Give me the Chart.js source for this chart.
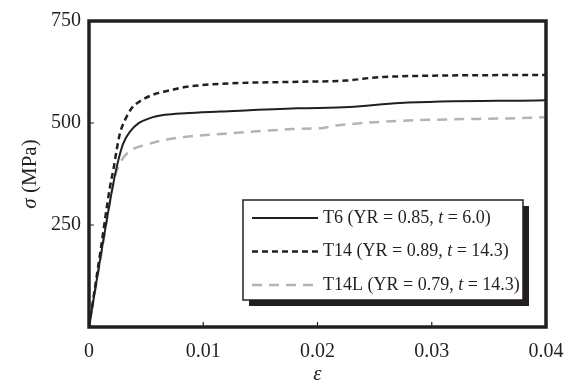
<!DOCTYPE html>
<html>
<head>
<meta charset="utf-8">
<script src="https://cdn.jsdelivr.net/npm/chart.js@4.4.1/dist/chart.umd.min.js"></script>
<style>
  html, body { margin: 0; padding: 0; background: #fff; }
  #wrap { width: 573px; height: 385px; position: relative; }
</style>
</head>
<body>
<div id="wrap"><canvas id="c"></canvas></div>
<script>
// strain (-) and stress (MPa)
const t6Strain = [0, 0.001, 0.00213, 0.00257, 0.003, 0.00359, 0.00432, 0.00534, 0.00665, 0.0084, 0.0115, 0.0182, 0.0228, 0.0272, 0.04];
const t6Stress = [0, 170, 352, 409, 450, 479, 499, 512, 520, 524, 528, 536, 539, 549, 556];

const t14Strain = [0, 0.001, 0.00184, 0.00213, 0.00242, 0.00271, 0.00315, 0.00373, 0.00461, 0.00577, 0.00723, 0.0084, 0.0115, 0.0182, 0.0225, 0.0257, 0.04];
const t14Stress = [0, 185, 344, 385, 434, 475, 507, 536, 556, 571, 581, 588, 596, 601, 604, 613, 618];

const t14lStrain = [0, 0.001, 0.00227, 0.00286, 0.00373, 0.0049, 0.00636, 0.0084, 0.0115, 0.0178, 0.0205, 0.022, 0.04];
const t14lStress = [0, 165, 368, 409, 434, 446, 457, 466, 473, 485, 488, 495, 514];

const seriesNames = ['T6', 'T14', 'T14L'];
const seriesNotes = [['YR = 0.85, ', '6.0'], ['YR = 0.89, ', '14.3'], ['YR = 0.79, ', '14.3']];
const yTicks = [250, 500, 750];
const xTicks = [0, 0.01, 0.02, 0.03, 0.04];

const ink = '#231f20';
const grey = '#b4b4b4';
const serif = '"Liberation Serif", "Times New Roman", serif';

const pts = (xs, ys) => xs.map((x, i) => ({ x, y: ys[i] }));

const lineStyles = [
  { color: ink, width: 2, dash: [] },
  { color: ink, width: 2.5, dash: [6, 4] },
  { color: grey, width: 2.5, dash: [10, 7] },
];

const frame = {
  id: 'frame',
  afterDraw(chart) {
    const { ctx, chartArea: a, scales: { x, y } } = chart;
    ctx.save();
    // inner ticks
    ctx.strokeStyle = ink;
    ctx.lineWidth = 1.2;
    ctx.beginPath();
    xTicks.slice(1, -1).forEach(v => {
      const px = x.getPixelForValue(v);
      ctx.moveTo(px, a.bottom); ctx.lineTo(px, a.bottom - 5);
    });
    yTicks.slice(0, -1).forEach(v => {
      const py = y.getPixelForValue(v);
      ctx.moveTo(a.left, py); ctx.lineTo(a.left + 5, py);
    });
    ctx.stroke();
    // box
    ctx.lineWidth = 3.5;
    ctx.strokeRect(a.left, a.top, a.right - a.left, a.bottom - a.top);

    // axis titles
    ctx.fillStyle = ink;
    ctx.font = 'italic 21px ' + serif;
    ctx.textAlign = 'center';
    ctx.textBaseline = 'middle';
    ctx.fillText('ε', (a.left + a.right) / 2, 374);

    ctx.save();
    ctx.translate(30, (a.top + a.bottom) / 2);
    ctx.rotate(-Math.PI / 2);
    ctx.textAlign = 'left';
    ctx.font = 'italic 21px ' + serif;
    const s1 = 'σ ';
    const w1 = ctx.measureText(s1).width;
    ctx.font = '21px ' + serif;
    const s2 = '(MPa)';
    const w2 = ctx.measureText(s2).width;
    let cx = -(w1 + w2) / 2;
    ctx.font = 'italic 21px ' + serif;
    ctx.fillText(s1, cx, 0);
    ctx.font = '21px ' + serif;
    ctx.fillText(s2, cx + w1, 0);
    ctx.restore();

    // legend
    const bx = 243, by = a.top + 179, bw = 280, bh = 100;
    ctx.fillStyle = ink;
    ctx.fillRect(bx + 6, by + 6, bw, bh);
    ctx.fillStyle = '#fff';
    ctx.fillRect(bx, by, bw, bh);
    ctx.lineWidth = 1.5;
    ctx.strokeStyle = ink;
    ctx.strokeRect(bx, by, bw, bh);
    ctx.textBaseline = 'middle';
    ctx.textAlign = 'left';
    seriesNames.forEach((name, i) => {
      const ly = by + 18 + i * 33.5;
      const st = lineStyles[i];
      ctx.strokeStyle = st.color;
      ctx.lineWidth = st.width;
      ctx.setLineDash(st.dash);
      ctx.beginPath();
      ctx.moveTo(bx + 9, ly); ctx.lineTo(bx + 75, ly);
      ctx.stroke();
      ctx.setLineDash([]);
      ctx.fillStyle = ink;
      let tx = bx + 80;
      const parts = [
        [name + ' (' + seriesNotes[i][0], false],
        ['t', true],
        [' = ' + seriesNotes[i][1] + ')', false],
      ];
      parts.forEach(([txt, it]) => {
        ctx.font = (it ? 'italic ' : '') + '18px ' + serif;
        ctx.fillText(txt, tx, ly);
        tx += ctx.measureText(txt).width;
      });
    });
    ctx.restore();
  }
};

new Chart(document.getElementById('c'), {
  type: 'scatter',
  data: {
    datasets: [
      { label: 'T6', data: pts(t6Strain, t6Stress) },
      { label: 'T14', data: pts(t14Strain, t14Stress) },
      { label: 'T14L', data: pts(t14lStrain, t14lStress) },
    ].map((d, i) => ({
      ...d,
      showLine: true,
      borderColor: lineStyles[i].color,
      borderWidth: lineStyles[i].width,
      borderDash: lineStyles[i].dash,
      pointRadius: 0,
      cubicInterpolationMode: 'monotone',
    })),
  },
  options: {
    responsive: true,
    maintainAspectRatio: false,
    animation: false,
    layout: { padding: { top: 21, right: 27, bottom: 0, left: 0 } },
    plugins: { legend: { display: false }, tooltip: { enabled: false } },
    scales: {
      x: {
        type: 'linear', min: 0, max: 0.04,
        afterFit: s => { s.height = 58; s.paddingLeft = 0; s.paddingRight = 0; },
        afterBuildTicks: s => { s.ticks = xTicks.map(v => ({ value: v })); },
        grid: { display: false, drawTicks: false },
        border: { display: false },
        ticks: { color: ink, padding: 13, font: { family: serif, size: 20 }, callback: v => v === 0 ? '0' : v.toFixed(2) },
      },
      y: {
        min: 0, max: 750,
        afterFit: s => { s.width = 89; s.paddingTop = 0; s.paddingBottom = 0; },
        afterBuildTicks: s => { s.ticks = yTicks.map(v => ({ value: v })); },
        grid: { display: false, drawTicks: false },
        border: { display: false },
        ticks: { color: ink, padding: 8, font: { family: serif, size: 20 } },
      },
    },
  },
  plugins: [frame],
});
</script>
</body>
</html>
